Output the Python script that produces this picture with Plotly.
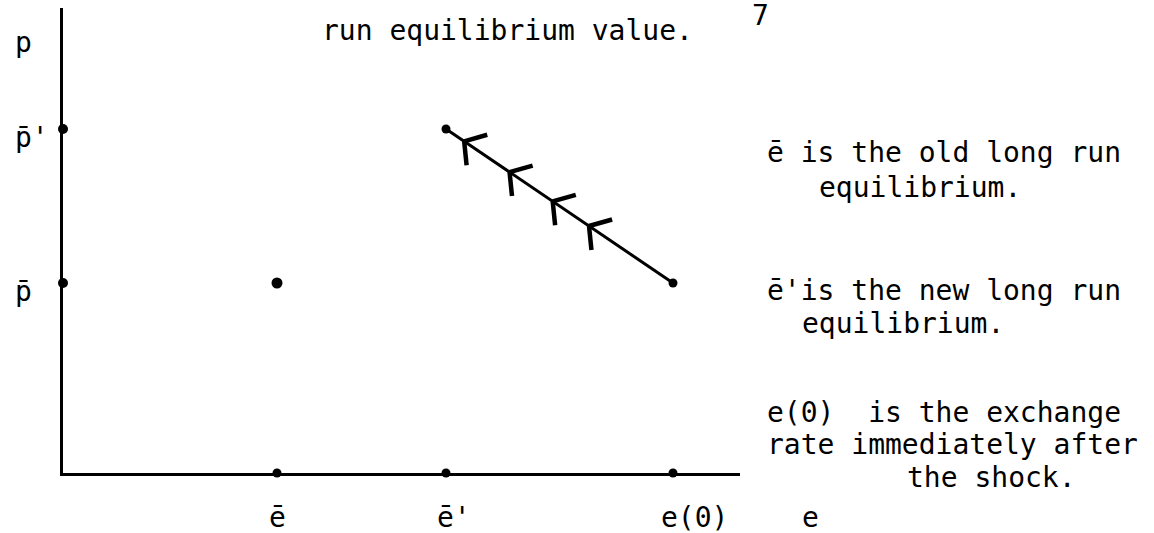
import math
import plotly.graph_objects as go

# Exchange-rate overshooting diagram (units: e on x, p on y)
e_names = ["e\u0304", "e\u0304'", "e(0)"]
e_values = [2.14, 3.83, 6.10]          # old equilibrium, new equilibrium, rate right after shock
p_names = ["p\u0304'", "p\u0304"]
p_values = [3.44, 1.90]                # new and old long-run price level

# adjustment path runs from (e(0), p-bar) back up to (e-bar', p-bar')
path_e = [e_values[1], e_values[2]]
path_p = [p_values[0], p_values[1]]
arrow_fracs = [0.08, 0.28, 0.47, 0.63]  # where the direction chevrons sit along the path

W, H = 1154, 533
X_MAX, Y_MAX = 6.77, 4.65
X_DOMAIN = [63 / W, 740 / W]
Y_DOMAIN = [60 / H, 525 / H]
FONT = "DejaVu Sans Mono"
INK = "#000000"

fig = go.Figure()

# saddle path
fig.add_trace(go.Scatter(
    x=path_e, y=path_p, mode="lines+markers",
    line=dict(color=INK, width=3),
    marker=dict(color=INK, size=9),
    cliponaxis=False, hoverinfo="skip"))

# chevrons pointing toward the new equilibrium
dx, dy = path_e[1] - path_e[0], path_p[1] - path_p[0]
norm = math.hypot(dx, dy)
ux, uy = dx / norm, dy / norm
arm = 0.24
spread = math.radians(50)
cx, cy = [], []
for t in arrow_fracs:
    vx = path_e[0] + t * dx
    vy = path_p[0] + t * dy
    for s in (spread, -spread):
        ax = ux * math.cos(s) - uy * math.sin(s)
        ay = ux * math.sin(s) + uy * math.cos(s)
        cx += [vx, vx + arm * ax, None]
        cy += [vy, vy + arm * ay, None]
fig.add_trace(go.Scatter(
    x=cx, y=cy, mode="lines", line=dict(color=INK, width=4.5),
    cliponaxis=False, hoverinfo="skip"))

# old long-run equilibrium point
fig.add_trace(go.Scatter(
    x=[e_values[0]], y=[p_values[1]], mode="markers",
    marker=dict(color=INK, size=11), cliponaxis=False, hoverinfo="skip"))

# marks on the axes
fig.add_trace(go.Scatter(
    x=[0, 0], y=p_values, mode="markers",
    marker=dict(color=INK, size=10), cliponaxis=False, hoverinfo="skip"))
fig.add_trace(go.Scatter(
    x=e_values, y=[0, 0, 0], mode="markers",
    marker=dict(color=INK, size=9), cliponaxis=False, hoverinfo="skip"))

annotations = []

def to_paper_x(x):
    return X_DOMAIN[0] + x / X_MAX * (X_DOMAIN[1] - X_DOMAIN[0])

def to_paper_y(y):
    return Y_DOMAIN[0] + y / Y_MAX * (Y_DOMAIN[1] - Y_DOMAIN[0])

def text(x, y, s, xanchor="left", xshift=0, yshift=0, xref="x", yref="y"):
    annotations.append(dict(
        x=x, y=y, xref=xref, yref=yref, text=s, showarrow=False,
        xanchor=xanchor, yanchor="middle", xshift=xshift, yshift=yshift,
        font=dict(family=FONT, size=28, color=INK)))

def page_text(x, y, s):
    # free text around the diagram, given in axis units, placed on the page
    text(to_paper_x(x), to_paper_y(y), s, xref="paper", yref="paper")

# axis labels
for name, v, shift in zip(e_names, e_values, [0, 8, 21]):
    text(v, 0, name, xanchor="center", xshift=shift, yshift=-44)
for name, v in zip(p_names, p_values):
    text(to_paper_x(-0.50), v, name, xref="paper", yshift=-8)
text(to_paper_x(-0.50), 4.34, "p", xref="paper", yshift=-4)
page_text(7.37, -0.44, "e")

# surrounding page text
page_text(2.57, 4.43, "run equilibrium value.")
page_text(6.87, 4.58, "7")
page_text(7.02, 3.21, "e\u0304 is the old long run")
page_text(7.54, 2.85, "equilibrium.")
page_text(7.02, 1.83, "e\u0304'is the new long run")
page_text(7.37, 1.50, "equilibrium.")
page_text(7.02, 0.61, "e(0)  is the exchange")
page_text(7.02, 0.29, "rate immediately after")
page_text(8.42, -0.04, "the shock.")

fig.update_layout(
    width=W, height=H,
    margin=dict(l=0, r=0, t=0, b=0),
    paper_bgcolor="white", plot_bgcolor="white",
    showlegend=False,
    annotations=annotations,
    xaxis=dict(range=[0, X_MAX], domain=X_DOMAIN,
               showline=True, linecolor=INK, linewidth=3,
               showgrid=False, zeroline=False, showticklabels=False, ticks=""),
    yaxis=dict(range=[0, Y_MAX], domain=Y_DOMAIN,
               showline=True, linecolor=INK, linewidth=3,
               showgrid=False, zeroline=False, showticklabels=False, ticks=""),
)

fig.write_html("out.html")
